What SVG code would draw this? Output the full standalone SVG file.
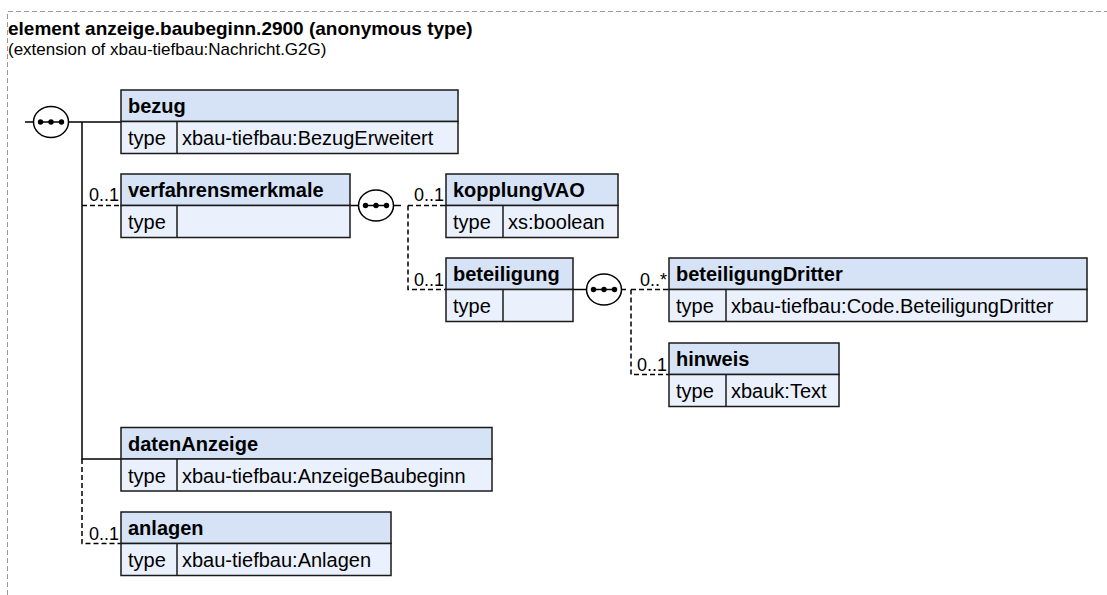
<svg xmlns="http://www.w3.org/2000/svg" width="1107" height="595" viewBox="0 0 1107 595">
<style>
.hd{fill:#d6e3f7;stroke:#1a1a1a;stroke-width:1.5}
.rw{fill:#eaf1fc;stroke:#1a1a1a;stroke-width:1.5}
.dv{stroke:#1a1a1a;stroke-width:1.5}
.nm{font-family:"Liberation Sans",Arial,sans-serif;font-weight:bold;font-size:20px;fill:#000}
.tx{font-family:"Liberation Sans",Arial,sans-serif;font-size:20px;fill:#000}
.lb{font-family:"Liberation Sans",Arial,sans-serif;font-size:18px;fill:#000;text-anchor:end}
.sl{fill:none;stroke:#000;stroke-width:1.5}
.dl{fill:none;stroke:#000;stroke-width:1.5;stroke-dasharray:5,3}
.sq{fill:#fff;stroke:#000;stroke-width:1.5}
</style>
<defs>
<g id="seq">
<ellipse cx="0" cy="0" rx="17.5" ry="15.5" class="sq"/>
<line x1="-13" y1="0" x2="12.5" y2="0" stroke="#000" stroke-width="1.5"/>
<circle cx="-10.5" cy="0" r="2.7" fill="#000"/>
<circle cx="0" cy="0" r="2.7" fill="#000"/>
<circle cx="10.5" cy="0" r="2.7" fill="#000"/>
</g>
</defs>
<path d="M7.5,595 V11.5 H1107" fill="none" stroke="#999" stroke-width="1" stroke-dasharray="5,3"/>
<text x="8" y="35" font-family="Liberation Sans,Arial,sans-serif" font-weight="bold" font-size="19">element anzeige.baubeginn.2900 (anonymous type)</text>
<text x="8" y="55" font-family="Liberation Sans,Arial,sans-serif" font-size="17">(extension of xbau-tiefbau:Nachricht.G2G)</text>

<g id="connectors">
<line x1="25" y1="122" x2="33.5" y2="122" class="sl"/>
<path d="M68.5,122 H121" class="sl"/>
<path d="M82,122 V459 H121" class="sl"/>
<path d="M82,205.5 H121" class="dl"/>
<path d="M82,459 V543.5 H121" class="dl"/>
<text x="119" y="201" class="lb">0..1</text>
<text x="119" y="540" class="lb">0..1</text>
<path d="M350,205.5 H358.5" class="sl"/>
<path d="M393.5,205.5 H401" class="sl"/>
<path d="M408,205.5 H446 M408,205.5 V289.5 H446" class="dl"/>
<text x="444" y="201" class="lb">0..1</text>
<text x="444" y="286" class="lb">0..1</text>
<path d="M573,289.5 H586.5" class="sl"/>
<path d="M621.5,289.5 H626" class="sl"/>
<path d="M631,289.5 H669 M631,289.5 V374.5 H669" class="dl"/>
<text x="667" y="286" class="lb">0..*</text>
<text x="667" y="371" class="lb">0..1</text>
</g>

<g id="seq1"><use href="#seq" x="51" y="122"/></g>
<g id="seq2"><use href="#seq" x="376" y="205.5"/></g>
<g id="seq3"><use href="#seq" x="604" y="289.5"/></g>

<g id="bezug">
<rect x="121" y="90" width="337" height="31.5" class="hd"/>
<rect x="121" y="121.5" width="337" height="32" class="rw"/>
<line x1="177" y1="121.5" x2="177" y2="153.5" class="dv"/>
<text x="128" y="113" class="nm">bezug</text>
<text x="128" y="145" class="tx">type</text>
<text x="182" y="145" class="tx">xbau-tiefbau:BezugErweitert</text>
</g>
<g id="verfahrensmerkmale">
<rect x="121" y="174" width="229" height="31.5" class="hd"/>
<rect x="121" y="205.5" width="229" height="32" class="rw"/>
<line x1="177" y1="205.5" x2="177" y2="237.5" class="dv"/>
<text x="128" y="197" class="nm">verfahrensmerkmale</text>
<text x="128" y="229" class="tx">type</text>
</g>
<g id="kopplungVAO">
<rect x="446" y="174" width="172" height="31.5" class="hd"/>
<rect x="446" y="205.5" width="172" height="32" class="rw"/>
<line x1="503" y1="205.5" x2="503" y2="237.5" class="dv"/>
<text x="453" y="197" class="nm">kopplungVAO</text>
<text x="453" y="229" class="tx">type</text>
<text x="508" y="229" class="tx">xs:boolean</text>
</g>
<g id="beteiligung">
<rect x="446" y="258" width="127" height="31.5" class="hd"/>
<rect x="446" y="289.5" width="127" height="32" class="rw"/>
<line x1="503" y1="289.5" x2="503" y2="321.5" class="dv"/>
<text x="453" y="281" class="nm">beteiligung</text>
<text x="453" y="313" class="tx">type</text>
</g>
<g id="beteiligungDritter">
<rect x="669" y="258" width="418" height="31.5" class="hd"/>
<rect x="669" y="289.5" width="418" height="32" class="rw"/>
<line x1="726" y1="289.5" x2="726" y2="321.5" class="dv"/>
<text x="676" y="281" class="nm">beteiligungDritter</text>
<text x="676" y="313" class="tx">type</text>
<text x="731" y="313" class="tx">xbau-tiefbau:Code.BeteiligungDritter</text>
</g>
<g id="hinweis">
<rect x="669" y="343" width="170" height="31.5" class="hd"/>
<rect x="669" y="374.5" width="170" height="32" class="rw"/>
<line x1="726" y1="374.5" x2="726" y2="406.5" class="dv"/>
<text x="676" y="366" class="nm">hinweis</text>
<text x="676" y="398" class="tx">type</text>
<text x="731" y="398" class="tx">xbauk:Text</text>
</g>
<g id="datenAnzeige">
<rect x="121" y="427.5" width="371" height="31.5" class="hd"/>
<rect x="121" y="459" width="371" height="32" class="rw"/>
<line x1="177" y1="459" x2="177" y2="491" class="dv"/>
<text x="128" y="450.5" class="nm">datenAnzeige</text>
<text x="128" y="482.5" class="tx">type</text>
<text x="182" y="482.5" class="tx">xbau-tiefbau:AnzeigeBaubeginn</text>
</g>
<g id="anlagen">
<rect x="121" y="512" width="270" height="31.5" class="hd"/>
<rect x="121" y="543.5" width="270" height="32" class="rw"/>
<line x1="177" y1="543.5" x2="177" y2="575.5" class="dv"/>
<text x="128" y="535" class="nm">anlagen</text>
<text x="128" y="567" class="tx">type</text>
<text x="182" y="567" class="tx">xbau-tiefbau:Anlagen</text>
</g>
</svg>
